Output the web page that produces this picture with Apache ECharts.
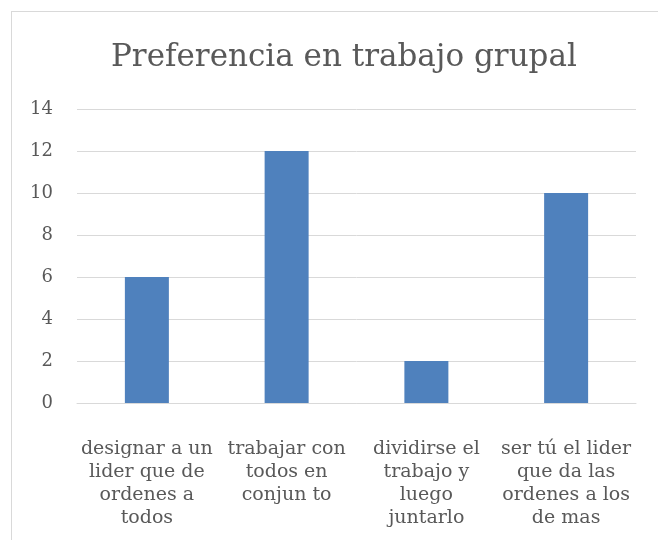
<!DOCTYPE html>
<html><head><meta charset="utf-8">
<script src="https://cdn.jsdelivr.net/npm/echarts@6/dist/echarts.min.js"></script>
<style>html,body{margin:0;padding:0;background:#fff}#c{width:658px;height:540px;position:relative}
#frame{position:absolute;left:11px;top:11px;width:700px;height:600px;border:1px solid #d9d9d9;box-sizing:border-box;pointer-events:none}</style>
</head><body><div id="c"></div><div id="frame"></div>
<script>
var titleText = 'Preferencia en trabajo grupal';
var categories = [
  'designar a un\nlider que de\nordenes a\ntodos',
  'trabajar con\ntodos en\nconjun to',
  'dividirse el\ntrabajo y\nluego\njuntarlo',
  'ser tú el lider\nque da las\nordenes a los\nde mas'
];
var values = [6, 12, 2, 10];
var yMin = 0, yMax = 14, yStep = 2;

var font = '"DejaVu Serif", serif';
var chart = echarts.init(document.getElementById('c'), null, {renderer: 'canvas'});
chart.setOption({
  animation: false,
  title: {
    text: titleText, left: 106, top: 37,
    textStyle: {fontFamily: font, fontSize: 31, fontWeight: 'normal', color: '#595959'}
  },
  grid: {left: 77, right: 22, top: 109, bottom: 137, containLabel: false},
  xAxis: {
    type: 'category', data: categories,
    axisLine: {lineStyle: {color: '#d9d9d9', width: 1}},
    axisTick: {show: false},
    axisLabel: {interval: 0, margin: 34, fontFamily: font, fontSize: 19, lineHeight: 23.3, color: '#595959', align: 'center'}
  },
  yAxis: {
    type: 'value', min: yMin, max: yMax, interval: yStep,
    axisLine: {show: false}, axisTick: {show: false},
    splitLine: {lineStyle: {color: '#d9d9d9', width: 1}},
    axisLabel: {margin: 24, fontFamily: font, fontSize: 18, color: '#595959'}
  },
  series: [{
    type: 'bar', data: values, barWidth: 44,
    itemStyle: {color: '#4f81bd'}
  }]
});
</script></body></html>
